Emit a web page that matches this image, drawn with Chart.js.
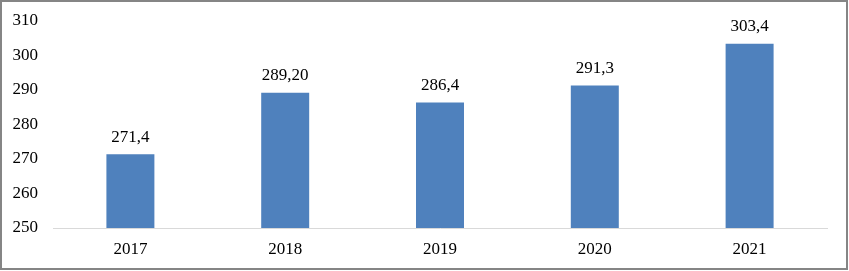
<!DOCTYPE html>
<html>
<head>
<meta charset="utf-8">
<script src="https://cdn.jsdelivr.net/npm/chart.js@4/dist/chart.umd.min.js"></script>
<style>
  html, body { margin: 0; padding: 0; background: #fff; }
  #wrap { width: 849px; height: 271px; position: relative; }
</style>
</head>
<body>
<div id="wrap"><canvas id="bar_chart" width="849" height="271"></canvas></div>
<script>
var years = ["2017", "2018", "2019", "2020", "2021"];
var values = [271.4, 289.2, 286.4, 291.3, 303.4];
var valueLabels = ["271,4", "289,20", "286,4", "291,3", "303,4"];
var yTicks = [250, 260, 270, 280, 290, 300, 310];

var FONT = "'Liberation Serif', 'Times New Roman', serif";

// labels over the bars
var barLabels = {
    id: 'barLabels',
    afterDatasetsDraw: function (chart) {
        var ctx = chart.ctx;
        var meta = chart.getDatasetMeta(0);
        ctx.save();
        ctx.font = "17px " + FONT;
        ctx.fillStyle = "#000";
        ctx.textAlign = "center";
        ctx.textBaseline = "middle";
        meta.data.forEach(function (bar, i) {
            ctx.fillText(valueLabels[i], bar.x, bar.y - 17);
        });
        ctx.restore();
    }
};

// outer frame
var frame = {
    id: 'frame',
    afterDraw: function (chart) {
        var ctx = chart.ctx;
        ctx.save();
        ctx.strokeStyle = "#858585";
        ctx.lineWidth = 2;
        ctx.strokeRect(1, 1, chart.width - 3, chart.height - 3);
        ctx.restore();
    }
};

new Chart(document.getElementById("bar_chart").getContext("2d"), {
    type: 'bar',
    data: {
        labels: years,
        datasets: [{
            data: values,
            backgroundColor: '#4F81BD',
            barPercentage: 0.31,
            categoryPercentage: 1
        }]
    },
    options: {
        responsive: false,
        animation: false,
        layout: { padding: { left: 0, right: 22, top: 21, bottom: 0 } },
        plugins: {
            legend: { display: false },
            tooltip: { enabled: false }
        },
        scales: {
            x: {
                grid: { display: false, drawTicks: false },
                border: { display: true, color: '#d9d9d9', width: 1 },
                ticks: { color: '#000', font: { family: FONT, size: 17 }, padding: 11 },
                afterFit: function (scale) {
                    scale.height = 43;
                    scale.paddingLeft = 0;
                    scale.paddingRight = 0;
                }
            },
            y: {
                min: 250,
                max: 310,
                grid: { display: false, drawTicks: false },
                border: { display: false },
                afterBuildTicks: function (scale) {
                    scale.ticks = yTicks.map(function (v) { return { value: v }; });
                },
                ticks: { color: '#000', font: { family: FONT, size: 17 }, padding: 15 },
                afterFit: function (scale) {
                    scale.width = 53;
                    scale.paddingTop = 0;
                    scale.paddingBottom = 0;
                }
            }
        }
    },
    plugins: [barLabels, frame]
});
</script>
</body>
</html>
